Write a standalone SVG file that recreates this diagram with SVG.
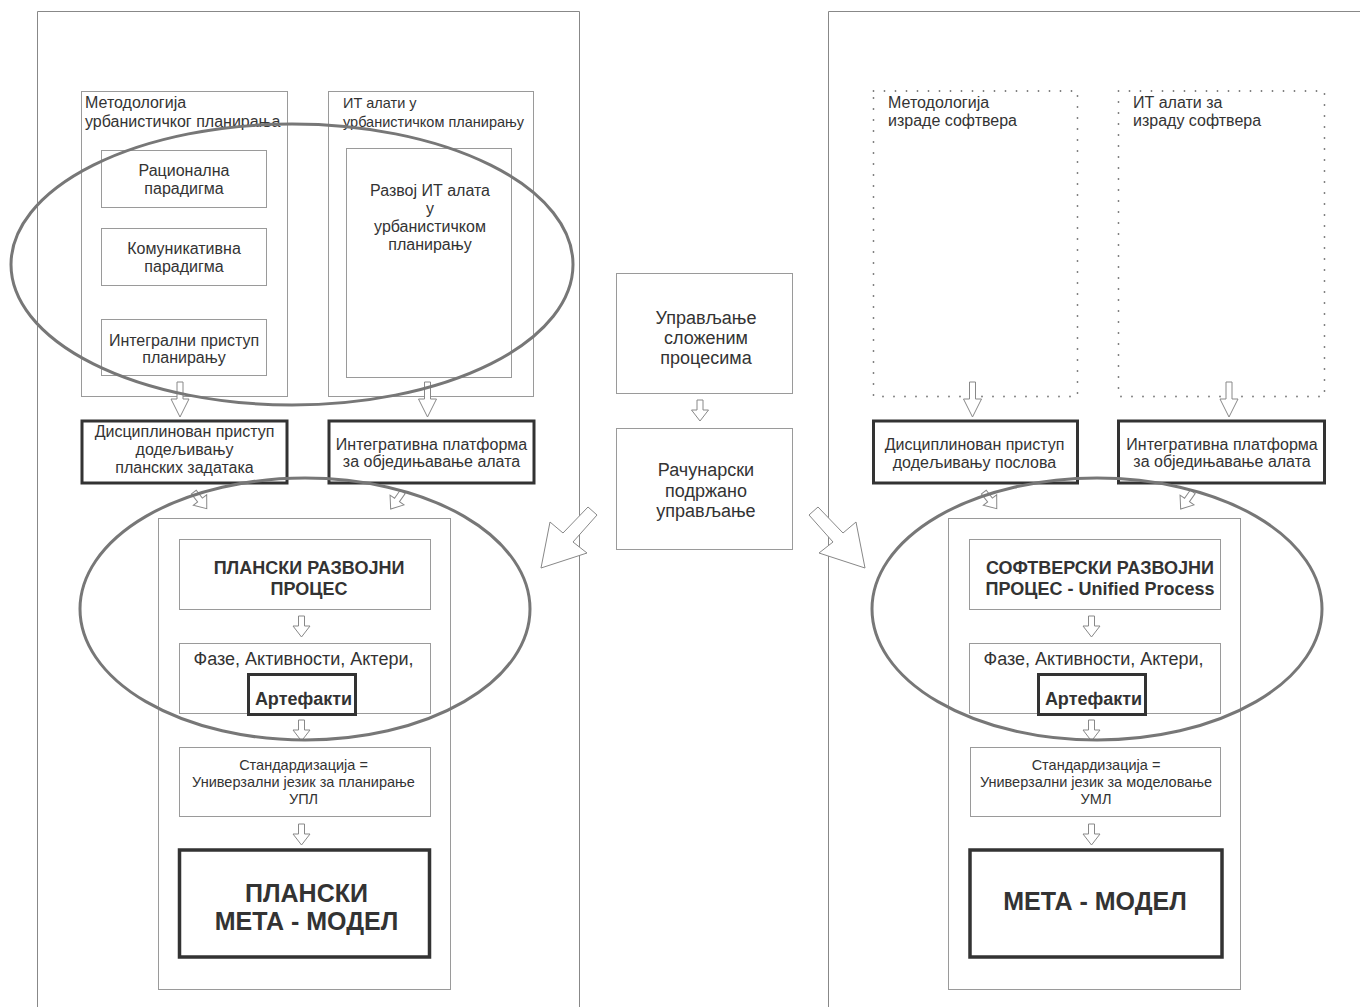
<svg xmlns="http://www.w3.org/2000/svg" width="1360" height="1007" viewBox="0 0 1360 1007">
<style>
text{font-family:"Liberation Sans",Arial,sans-serif;fill:#333}
.t16{font-size:16px}
.t15{font-size:16px}
.t14{font-size:14.5px}
.t17{font-size:18px}
.t18{font-size:18px}
.t13{font-size:14.5px}
.b17{font-size:18px;font-weight:bold}
.b25{font-size:25px;font-weight:bold}
.thin{fill:#fff;stroke:#9a9a9a;stroke-width:1}
.thick{fill:#fff;stroke:#333;stroke-width:3}
.panel{fill:none;stroke:#888;stroke-width:1}
.dot{fill:none;stroke:#777;stroke-width:1.8;stroke-linecap:round;stroke-dasharray:0 11}
.ell{fill:none;stroke:#777;stroke-width:3}
.arr{fill:#fff;stroke:#888;stroke-width:1}
.m{text-anchor:middle}
</style>
<defs>
<path id="aBig" d="M-3,-17 L3,-17 L3,0 L9,0 L0,18 L-9,0 L-3,0 Z"/>
<path id="aSm" d="M-3,-10 L3,-10 L3,0 L8.5,0 L0,11 L-8.5,0 L-3,0 Z"/>
</defs>
<rect width="1360" height="1007" fill="#fff"/>
<g id="panel-left"><path class="panel" d="M37.5,1007 V11.5 H579.5 V1007"/></g>
<g id="panel-right"><path class="panel" d="M828.5,1007 V11.5 H1360"/></g>

<g id="left-methodology">
<rect class="thin" x="81.5" y="91.5" width="206" height="305"/>
<text class="t15" x="85" y="107.5">Методологија</text>
<text class="t15" x="85" y="126.5">урбанистичког планирања</text>
</g>
<g id="left-rational"><rect class="thin" x="101.5" y="150.5" width="165" height="57"/>
<text class="t16 m" x="184" y="175.5">Рационална</text><text class="t16 m" x="184" y="194">парадигма</text></g>
<g id="left-communicative"><rect class="thin" x="101.5" y="228.5" width="165" height="57"/>
<text class="t16 m" x="184" y="254">Комуникативна</text><text class="t16 m" x="184" y="272">парадигма</text></g>
<g id="left-integral"><rect class="thin" x="101.5" y="319.5" width="165" height="56"/>
<text class="t16 m" x="184" y="345.5">Интегрални приступ</text><text class="t16 m" x="184" y="363">планирању</text></g>

<g id="left-it-tools">
<rect class="thin" x="328.5" y="91.5" width="205" height="305"/>
<text class="t14" x="343" y="107.5">ИТ алати у</text>
<text class="t14" x="343" y="126.5">урбанистичком планирању</text>
</g>
<g id="left-it-dev"><rect class="thin" x="346.5" y="148.5" width="165" height="229"/>
<text class="t16 m" x="430" y="195.5">Развој ИТ алата</text><text class="t16 m" x="430" y="213.5">у</text>
<text class="t16 m" x="430" y="231.5">урбанистичком</text><text class="t16 m" x="430" y="250">планирању</text></g>

<g id="left-disciplined"><rect class="thick" x="82" y="421" width="205" height="62"/>
<text class="t16 m" x="184.5" y="437">Дисциплинован приступ</text>
<text class="t16 m" x="184.5" y="455">додељивању</text>
<text class="t16 m" x="184.5" y="472.5">планских задатака</text></g>
<g id="left-platform"><rect class="thick" x="329" y="421" width="205" height="62"/>
<text class="t16 m" x="431.5" y="449.5">Интегративна платформа</text>
<text class="t16 m" x="431.5" y="467">за обједињавање алата</text></g>

<g id="left-container"><rect class="thin" x="158.5" y="518.5" width="292" height="471"/></g>
<g id="left-process"><rect class="thin" x="179.5" y="539.5" width="251" height="70"/>
<text class="b17 m" x="309" y="574">ПЛАНСКИ РАЗВОЈНИ</text><text class="b17 m" x="309" y="594.5">ПРОЦЕС</text></g>
<g id="left-phases"><rect class="thin" x="179.5" y="643.5" width="251" height="70"/>
<text class="t18 m" x="303.5" y="665">Фазе, Активности, Актери,</text></g>
<g id="left-artifacts"><rect class="thick" x="248.5" y="674.5" width="107" height="40"/>
<text class="b17 m" x="303.5" y="704.5">Артефакти</text></g>
<g id="left-standard"><rect class="thin" x="179.5" y="747.5" width="251" height="69"/>
<text class="t13 m" x="303.5" y="770">Стандардизација =</text>
<text class="t13 m" x="303.5" y="787">Универзални језик за планирање</text>
<text class="t13 m" x="303.5" y="804">УПЛ</text></g>
<g id="left-metamodel"><rect class="thick" x="179.5" y="850" width="250" height="107" style="stroke-width:3.5"/>
<text class="b25 m" x="306.5" y="902">ПЛАНСКИ</text><text class="b25 m" x="306.5" y="930">МЕТА - МОДЕЛ</text></g>

<g id="mid-complex"><rect class="thin" x="616.5" y="273.5" width="176" height="120"/>
<text class="t17 m" x="706" y="323.5">Управљање</text><text class="t17 m" x="706" y="343.5">сложеним</text><text class="t17 m" x="706" y="363.5">процесима</text></g>
<g id="mid-computer"><rect class="thin" x="616.5" y="428.5" width="176" height="121"/>
<text class="t17 m" x="706" y="476">Рачунарски</text><text class="t17 m" x="706" y="496.5">подржано</text><text class="t17 m" x="706" y="516.5">управљање</text></g>

<g id="right-methodology"><rect class="dot" x="873.5" y="91" width="204" height="305.5"/>
<text class="t15" x="888" y="107.5">Методологија</text><text class="t15" x="888" y="126">израде софтвера</text></g>
<g id="right-it-tools"><rect class="dot" x="1118.5" y="91" width="206" height="305.5"/>
<text class="t15" x="1133" y="107.5">ИТ алати за</text><text class="t15" x="1133" y="126">израду софтвера</text></g>

<g id="right-disciplined"><rect class="thick" x="873.5" y="421" width="204" height="62"/>
<text class="t16 m" x="974.5" y="450">Дисциплинован приступ</text>
<text class="t16 m" x="974.5" y="467.5">додељивању послова</text></g>
<g id="right-platform"><rect class="thick" x="1118.5" y="421" width="206" height="62"/>
<text class="t16 m" x="1222" y="449.5">Интегративна платформа</text>
<text class="t16 m" x="1222" y="467">за обједињавање алата</text></g>

<g id="right-container"><rect class="thin" x="948.5" y="518.5" width="292" height="471"/></g>
<g id="right-process"><rect class="thin" x="969.5" y="539.5" width="251" height="70"/>
<text class="b17 m" x="1100" y="574">СОФТВЕРСКИ РАЗВОЈНИ</text><text class="b17 m" x="1100" y="594.5">ПРОЦЕС - Unified Process</text></g>
<g id="right-phases"><rect class="thin" x="969.5" y="643.5" width="251" height="70"/>
<text class="t18 m" x="1093.5" y="665">Фазе, Активности, Актери,</text></g>
<g id="right-artifacts"><rect class="thick" x="1038.5" y="674.5" width="107" height="40"/>
<text class="b17 m" x="1093.5" y="704.5">Артефакти</text></g>
<g id="right-standard"><rect class="thin" x="970.5" y="747.5" width="250" height="69"/>
<text class="t13 m" x="1096" y="770">Стандардизација =</text>
<text class="t13 m" x="1096" y="787">Универзални језик за моделовање</text>
<text class="t13 m" x="1096" y="804">УМЛ</text></g>
<g id="right-metamodel"><rect class="thick" x="970" y="850" width="252" height="107" style="stroke-width:3.5"/>
<text class="b25 m" x="1095" y="910">МЕТА - МОДЕЛ</text></g>

<g id="connectors">
<use href="#aBig" class="arr" x="180" y="399"/>
<use href="#aBig" class="arr" x="427.5" y="399"/>
<use href="#aBig" class="arr" x="972.5" y="399"/>
<use href="#aBig" class="arr" x="1229" y="399"/>
<use href="#aSm" class="arr" transform="translate(200,500) rotate(-38)"/>
<use href="#aSm" class="arr" transform="translate(397,500) rotate(35)"/>
<use href="#aSm" class="arr" transform="translate(990,500) rotate(-38)"/>
<use href="#aSm" class="arr" transform="translate(1187,500) rotate(35)"/>
<use href="#aSm" class="arr" x="301.5" y="626"/>
<use href="#aSm" class="arr" x="301.5" y="730"/>
<use href="#aSm" class="arr" x="301.5" y="834"/>
<use href="#aSm" class="arr" x="1091.5" y="626"/>
<use href="#aSm" class="arr" x="1091.5" y="730"/>
<use href="#aSm" class="arr" x="1091.5" y="834"/>
<use href="#aSm" class="arr" x="700" y="410"/>
<polygon class="arr" points="588,507 597,515 573,542 587,553 541,568 550,522 563,533"/>
<polygon class="arr" points="818,507 809,515 833,542 819,553 865,568 856,522 843,533"/>
</g>

<g id="ellipses">
<ellipse class="ell" cx="292" cy="264.5" rx="281" ry="140.5"/>
<ellipse class="ell" cx="305" cy="609" rx="225" ry="131"/>
<ellipse class="ell" cx="1097" cy="609" rx="225" ry="131"/>
</g>
</svg>
